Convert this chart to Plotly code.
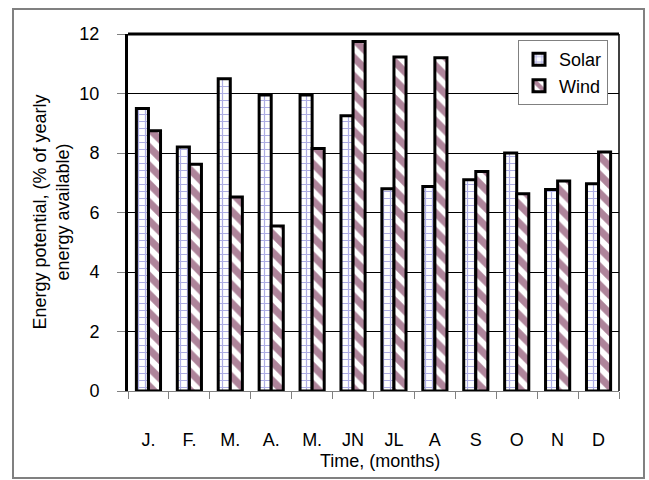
import plotly.graph_objects as go

months = ["J.", "F.", "M.", "A.", "M.", "JN", "JL", "A", "S", "O", "N", "D"]
solar = [9.5, 8.2, 10.5, 9.95, 9.95, 9.25, 6.8, 6.87, 7.1, 8.0, 6.77, 6.97]
wind = [8.75, 7.62, 6.52, 5.55, 8.15, 11.75, 11.23, 11.2, 7.38, 6.63, 7.06, 8.03]
y_ticks = [0, 2, 4, 6, 8, 10, 12]

FONT = "Arial, Liberation Sans, sans-serif"
FS = 18
pos = list(range(len(months)))

fig = go.Figure()
fig.add_trace(go.Bar(
    x=pos, y=solar, name="Solar", legendgroup="s",
    marker=dict(color="white", line=dict(color="black", width=3),
                pattern=dict(shape="+", fgcolor="#5c5cc8", bgcolor="white",
                             size=7, solidity=0.32)),
))
fig.add_trace(go.Bar(
    x=pos, y=wind, name="Wind", legendgroup="w",
    marker=dict(color="white", line=dict(color="black", width=3),
                pattern=dict(shape="\\", fgcolor="#5e0a36", bgcolor="white",
                             size=13, solidity=0.55)),
))

fig.update_layout(
    width=649, height=480,
    margin=dict(l=128, r=30, t=34, b=89),
    paper_bgcolor="white", plot_bgcolor="white",
    font=dict(family=FONT, size=FS, color="black"),
    barmode="group", bargap=0.41, bargroupgap=0,
    showlegend=True,
    legend=dict(x=(518 - 128) / 491, y=0.983, xanchor="left", yanchor="top",
                bgcolor="white", bordercolor="#808080", borderwidth=1,
                font=dict(family=FONT, size=FS),
                traceorder="grouped", tracegroupgap=0,
                itemwidth=30),
    xaxis=dict(range=[-0.5, 11.5], tickmode="array", tickvals=pos, ticktext=months,
               ticks="", showgrid=False, zeroline=False,
               showline=True, linecolor="#808080", linewidth=1,
               ticklabelstandoff=32,
               minor=dict(tickvals=[i - 0.5 for i in range(13)], ticks="outside",
                          ticklen=7, tickcolor="#808080", tickwidth=1, showgrid=False)),
    yaxis=dict(range=[0, 12], tickmode="array", tickvals=y_ticks,
               ticks="outside", ticklen=8, tickcolor="#808080", tickwidth=1,
               ticklabelstandoff=14,
               showgrid=True, gridcolor="black", gridwidth=1, zeroline=False,
               showline=True, linecolor="black", linewidth=3),
    shapes=[
        dict(type="line", xref="paper", yref="paper", x0=0, x1=1, y0=1, y1=1,
             line=dict(color="black", width=3)),
        dict(type="line", xref="paper", yref="paper", x0=1, x1=1, y0=0, y1=1,
             line=dict(color="black", width=1.5)),
        dict(type="rect", xref="paper", yref="paper",
             x0=-0.2342, x1=1.0509, y0=-0.2437, y1=1.070,
             line=dict(color="#808080", width=2), layer="below"),
    ],
    annotations=[
        dict(text="Energy potential, (% of yearly<br>energy available)",
             xref="paper", yref="paper", x=(51 - 128) / 491, y=0.5,
             xanchor="center", yanchor="middle", textangle=-90, showarrow=False,
             font=dict(family=FONT, size=FS)),
        dict(text="Time, (months)", xref="paper", yref="paper",
             x=(380 - 128) / 491, y=(391 - 461) / 357, xanchor="center", yanchor="middle",
             showarrow=False, font=dict(family=FONT, size=FS)),
    ],
)

fig.write_html("out.html")
